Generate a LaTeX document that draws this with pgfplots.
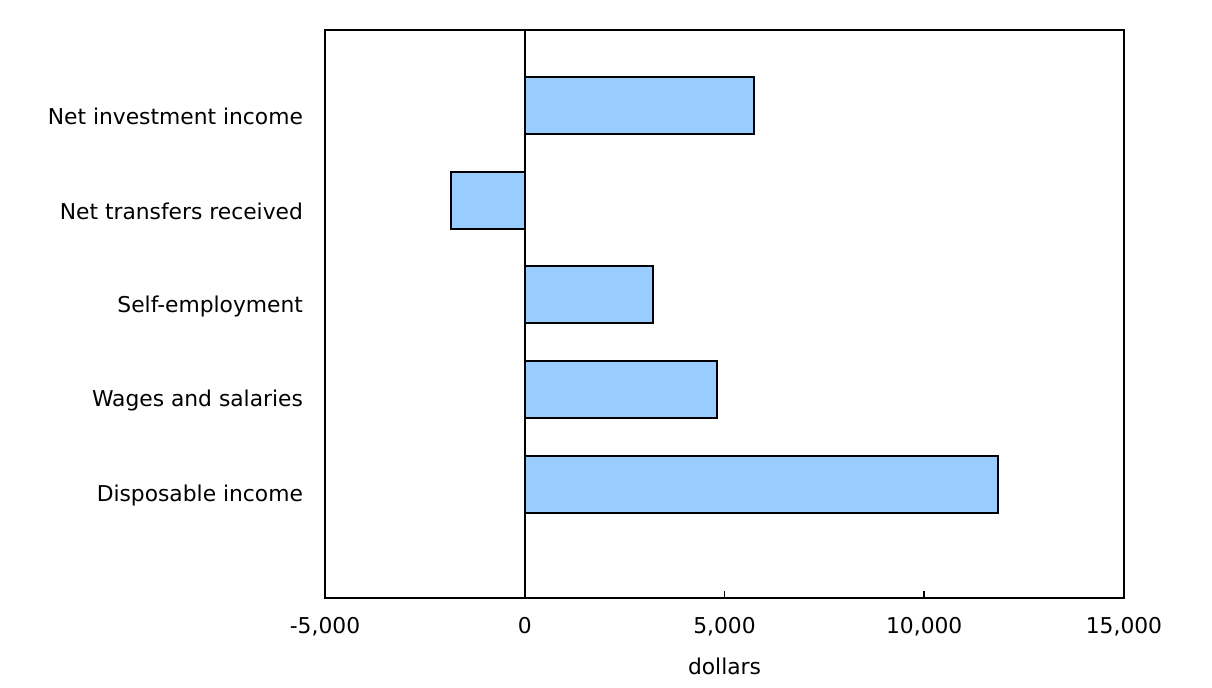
\documentclass[border=0pt]{standalone}
\usepackage{fontspec}
\setmainfont{DejaVu Sans}
\usepackage{pgfplots}
\pgfplotsset{compat=1.18}
\definecolor{barblue}{HTML}{99CCFF}
\begin{document}
\begin{tikzpicture}
\useasboundingbox (-162.5pt,-45pt) rectangle (443.5pt,299pt);
\begin{axis}[
    at={(0,0)}, anchor=south west,
    scale only axis,
    width=399.5pt, height=284pt,
    xbar, bar width=0.6,
    xmin=-5000, xmax=15000,
    ymin=-1.19, ymax=4.79,
    xtick={-5000,0,5000,10000,15000},
    xtick pos=bottom, xtick align=inside,
    major tick length=3.5pt,
    ytick={0,1,2,3,4},
    yticklabels={Disposable income, Wages and salaries, Self-employment, Net transfers received, Net investment income},
    ytick style={draw=none},
    yticklabel style={font=\fontsize{10.9}{12}\selectfont, xshift=-4pt, yshift=-5.5pt},
    xticklabel style={font=\fontsize{10.9}{12}\selectfont, yshift=-6pt},
    /pgf/number format/assume math mode=true,
    /pgf/number format/1000 sep={,},
    scaled x ticks=false,
    xlabel={dollars},
    xlabel style={font=\fontsize{10.9}{12}\selectfont, yshift=-4pt},
    axis line style={line width=1pt},
    xtick style={line width=0.8pt, black},
    clip=false,
    extra x ticks={0},
    extra x tick labels={},
    extra x tick style={grid=major, major grid style={black, line width=1pt}, major tick length=0pt},
]
\addplot[fill=barblue, draw=black, line width=1pt]
    coordinates {(11840,0) (4800,1) (3200,2) (-1850,3) (5730,4)};
\end{axis}
\end{tikzpicture}
\end{document}
